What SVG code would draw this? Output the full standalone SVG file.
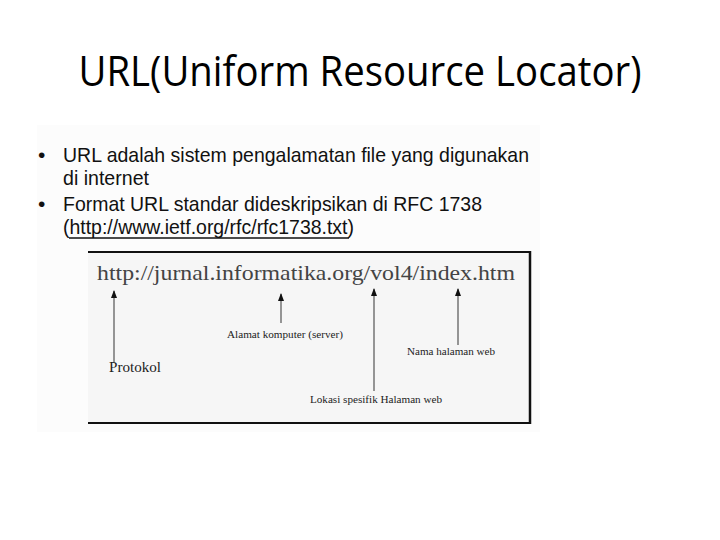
<svg xmlns="http://www.w3.org/2000/svg" width="720" height="540" viewBox="0 0 720 540">
  <style>
    .title { font-family: "Open Sans", "Noto Sans", "Liberation Sans", sans-serif; font-size: 42px; fill: #000; }
    .bullet { font-family: "Liberation Sans", Arial, sans-serif; font-size: 21px; fill: #111; }
    .url { font-family: "Liberation Serif", "DejaVu Serif", serif; font-size: 21px; fill: #444; }
    .lbl { font-family: "Liberation Serif", "DejaVu Serif", serif; font-size: 9.5px; fill: #222; }
    .lblbig { font-family: "Liberation Serif", "DejaVu Serif", serif; font-size: 14px; fill: #222; }
    .conn { stroke: #555; stroke-width: 1.2; fill: none; marker-start: url(#head); }
  </style>
  <defs>
    <marker id="head" viewBox="0 0 8 6" refX="7" refY="3" markerWidth="8" markerHeight="6" markerUnits="userSpaceOnUse" orient="auto-start-reverse">
      <path d="M0,0 L8,3 L0,6 Z" fill="#111"/>
    </marker>
  </defs>
  <rect width="720" height="540" fill="#fff"/>
  <g id="title">
    <text class="title" x="360" y="86" text-anchor="middle" textLength="563" lengthAdjust="spacingAndGlyphs">URL(Uniform Resource Locator)</text>
  </g>
  <rect x="37" y="125" width="503" height="307" fill="#fcfcfc"/>
  <g id="bullets">
    <text class="bullet" x="38" y="162">•</text>
    <text class="bullet" x="63" y="162" textLength="466" lengthAdjust="spacingAndGlyphs">URL adalah sistem pengalamatan file yang digunakan</text>
    <text class="bullet" x="63" y="185" textLength="86" lengthAdjust="spacingAndGlyphs">di internet</text>
    <text class="bullet" x="38" y="211">•</text>
    <text class="bullet" x="63" y="211" textLength="419" lengthAdjust="spacingAndGlyphs">Format URL standar dideskripsikan di RFC 1738</text>
    <text class="bullet" x="63" y="234" textLength="291" lengthAdjust="spacingAndGlyphs">(http://www.ietf.org/rfc/rfc1738.txt)</text>
    <line x1="69" y1="238" x2="349" y2="238" stroke="#111" stroke-width="1.3"/>
  </g>
  <g id="url-box">
    <rect x="88" y="252" width="442" height="171" fill="#f6f6f6"/>
    <line x1="88" y1="252" x2="531" y2="252" stroke="#111" stroke-width="2"/>
    <line x1="530" y1="251" x2="530" y2="424" stroke="#111" stroke-width="2.5"/>
    <line x1="88" y1="423" x2="531" y2="423" stroke="#111" stroke-width="2"/>
    <text class="url" x="97" y="280" textLength="418" lengthAdjust="spacingAndGlyphs">http://jurnal.informatika.org/vol4/index.htm</text>
  </g>
  <g id="connectors">
    <line class="conn" x1="114" y1="291" x2="114" y2="362"/>
    <line class="conn" x1="281" y1="294" x2="281" y2="323"/>
    <line class="conn" x1="374" y1="289" x2="374" y2="391"/>
    <line class="conn" x1="458" y1="289" x2="458" y2="345"/>
  </g>
  <g id="protokol">
    <text class="lblbig" x="109" y="372" textLength="52" lengthAdjust="spacingAndGlyphs">Protokol</text>
  </g>
  <g id="alamat">
    <text class="lbl" x="227" y="338" textLength="116" lengthAdjust="spacingAndGlyphs">Alamat komputer (server)</text>
  </g>
  <g id="nama">
    <text class="lbl" x="407" y="355" textLength="88" lengthAdjust="spacingAndGlyphs">Nama halaman web</text>
  </g>
  <g id="lokasi">
    <text class="lbl" x="310" y="403" textLength="132" lengthAdjust="spacingAndGlyphs">Lokasi spesifik Halaman web</text>
  </g>
</svg>
